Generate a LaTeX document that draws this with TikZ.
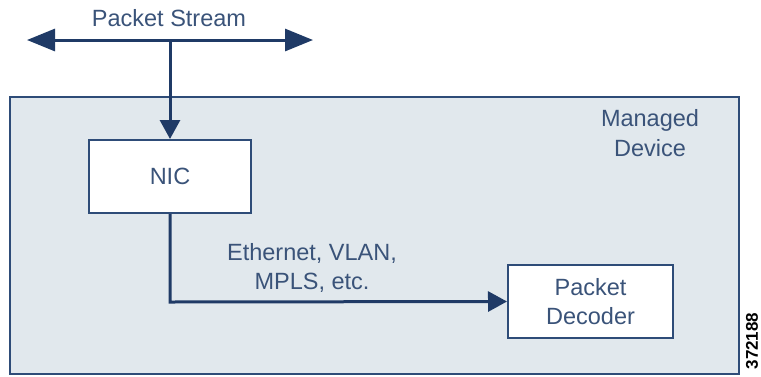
\documentclass[tikz,border=0pt]{standalone}
\usepackage{fontspec}
\setmainfont{Liberation Sans}
\usetikzlibrary{arrows.meta}
\definecolor{boxfill}{HTML}{E1E8ED}
\definecolor{linecol}{HTML}{1F3A66}
\definecolor{boxline}{HTML}{2E4C78}
\definecolor{txtcol}{HTML}{3A5379}
\begin{document}
\begin{tikzpicture}[x=1pt,y=-1pt,
  txt/.style={text=txtcol,font=\fontsize{23.5}{29.5}\selectfont,align=center,inner sep=0pt},
  procbox/.style={draw=boxline,line width=2pt,fill=white,txt},
  conn/.style={draw=linecol,line width=3pt},
  smalltip/.style={-{Triangle[length=19pt,width=20pt]}}]
\useasboundingbox (0,0) rectangle (761,376);
% managed device
\node[draw=boxline,line width=2.5pt,fill=boxfill,minimum width=729pt,minimum height=277pt,inner sep=0pt] (device) at (374.5,235.5) {};
\node[txt] (devlabel) at (650,133) {Managed\\Device};
% packet stream
\coordinate (psl) at (27,40);
\coordinate (psr) at (313,40);
\coordinate (psj) at (170,40);
\node[txt] (pslabel) at (169,18) {Packet Stream};
\draw[conn,{Triangle[length=28pt,width=22pt]}-{Triangle[length=28pt,width=22pt]}] (psl) -- (psr);
% boxes
\node[procbox,minimum width=162pt,minimum height=73pt] (nic) at (170,176.5) {NIC};
\node[procbox,minimum width=165pt,minimum height=73pt] (dec) at (590.5,301.5) {Packet\\Decoder};
\draw[conn,smalltip] (psj) -- (nic.north);
\coordinate (bend) at (170,302);
\draw[conn,smalltip] (nic.south) -- (bend) -- (dec.west);
\node[txt] (proto) at (312,268) {Ethernet, VLAN,\\MPLS, etc.};
\node[text=black,font=\fontsize{17}{20}\selectfont\bfseries,rotate=90,inner sep=0pt] (fig) at (752,341) {372188};
\end{tikzpicture}
\end{document}
